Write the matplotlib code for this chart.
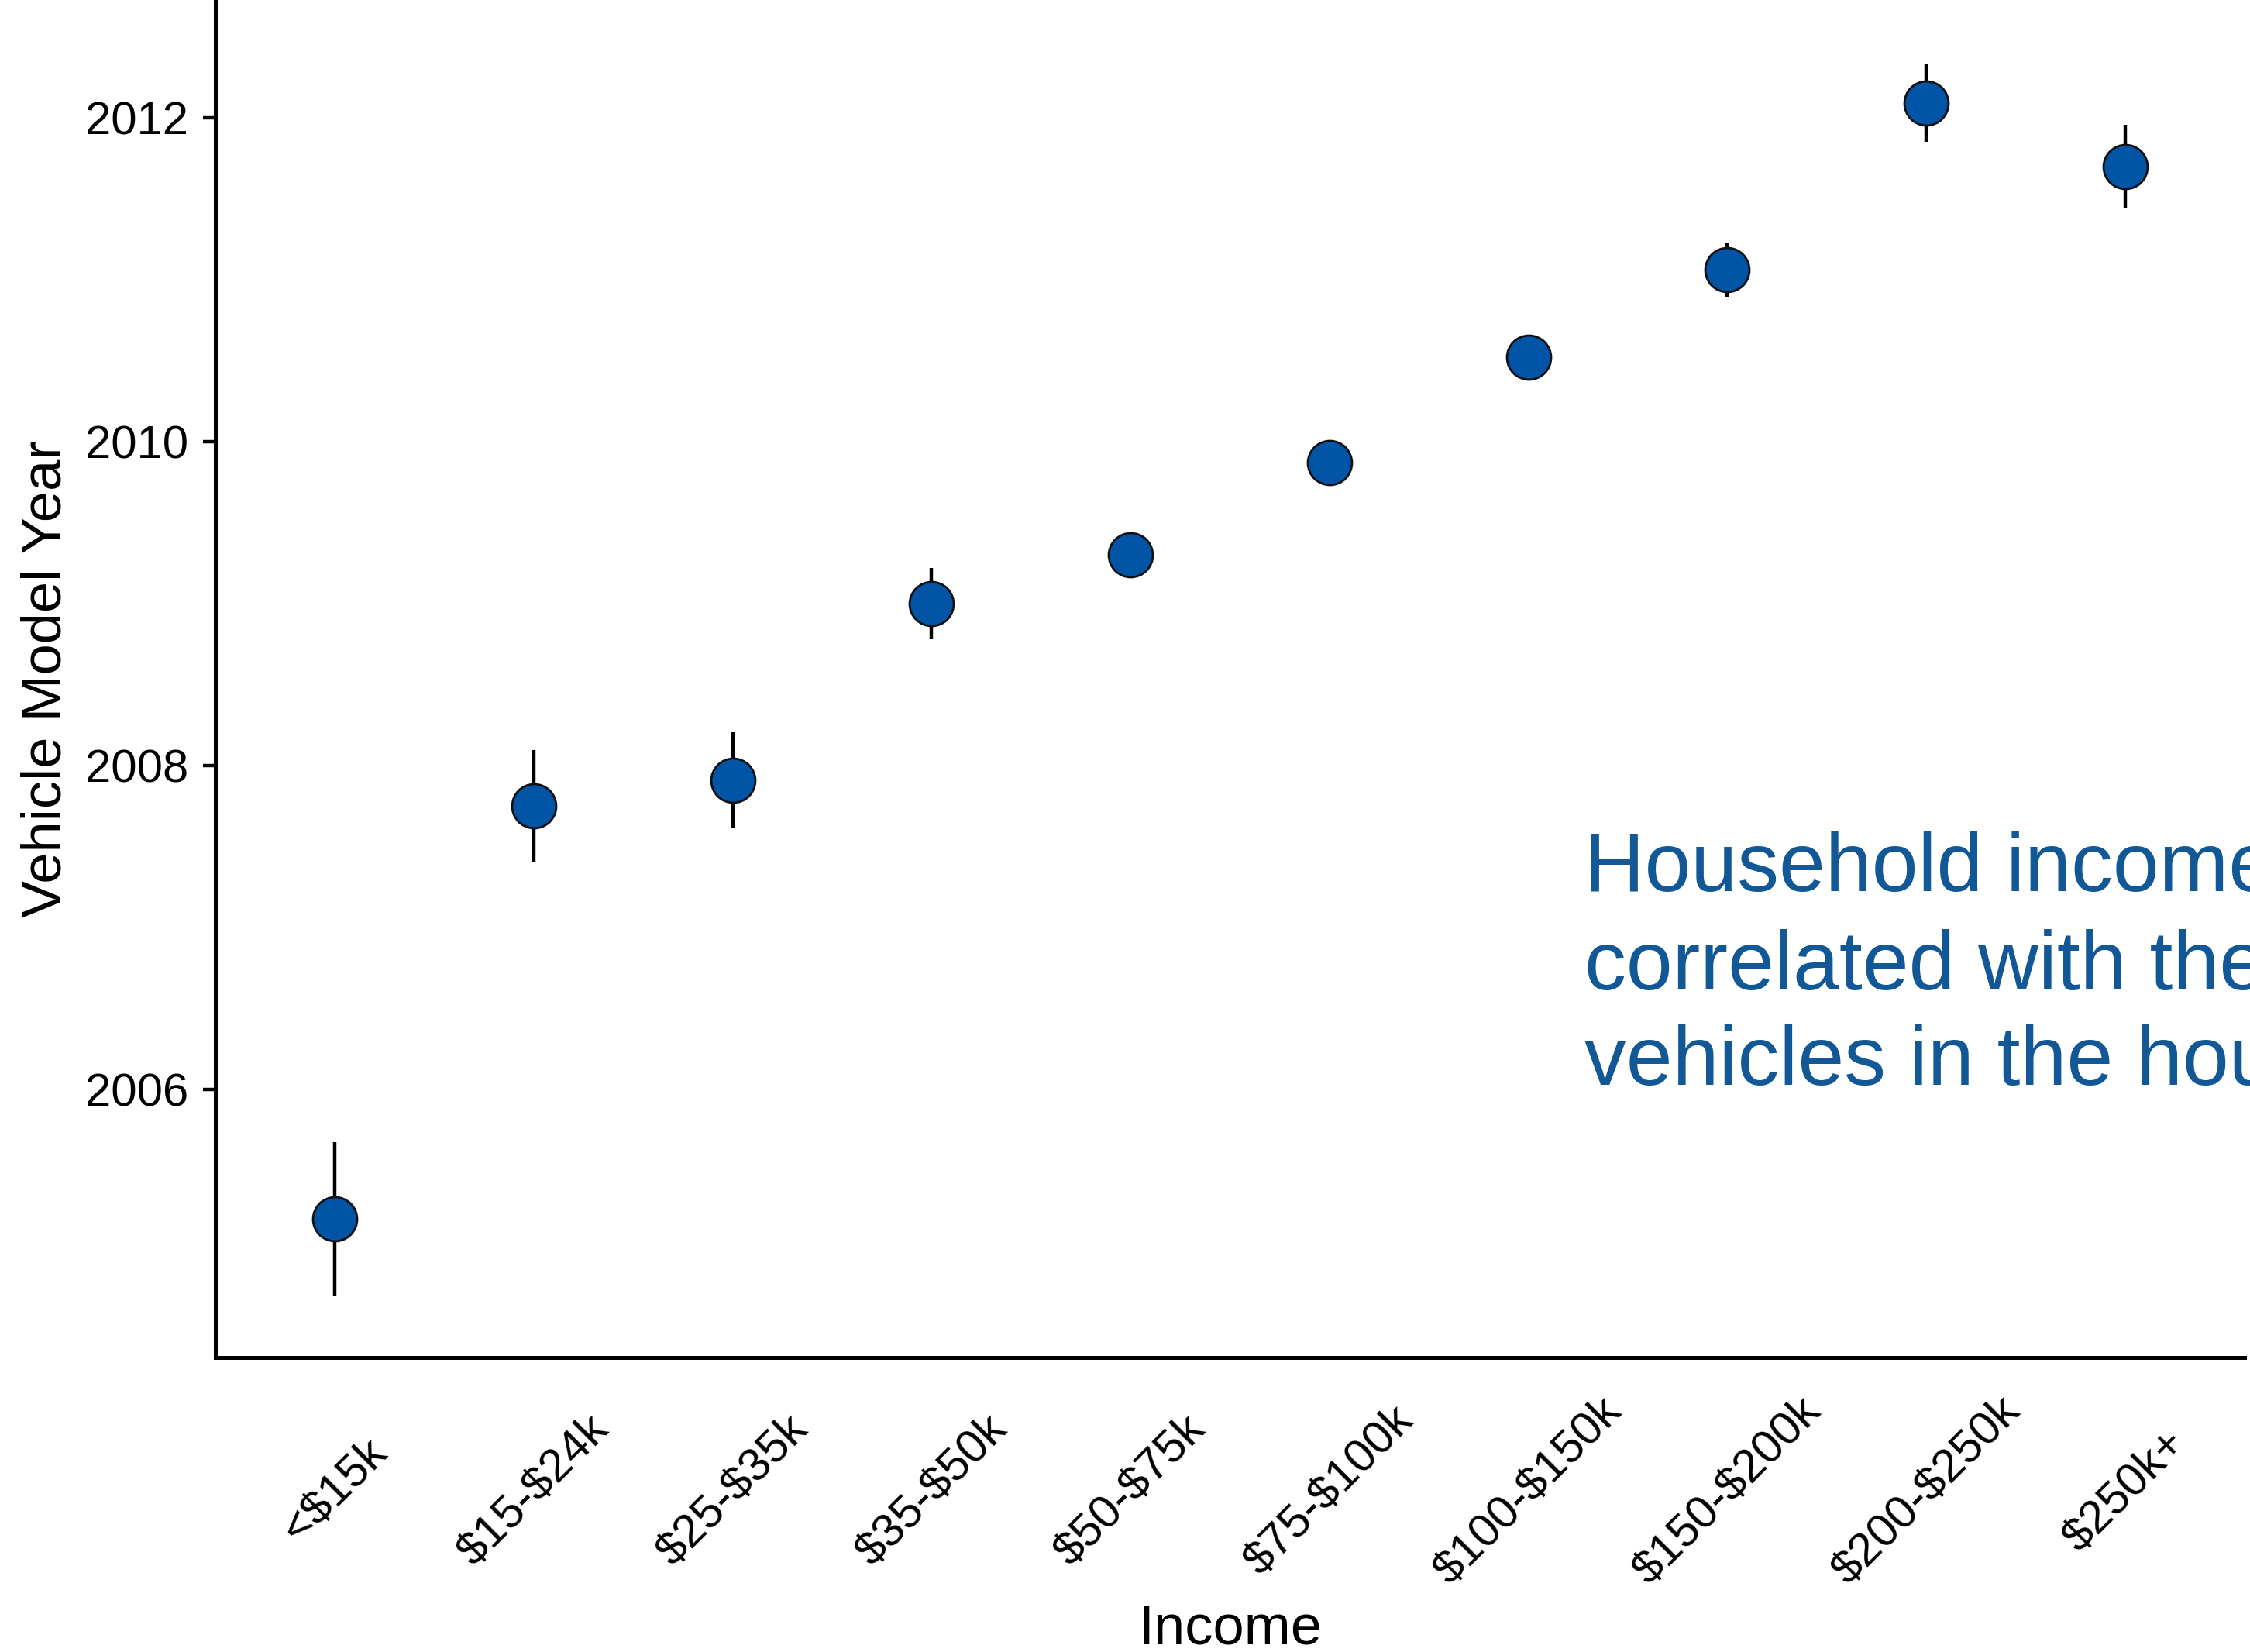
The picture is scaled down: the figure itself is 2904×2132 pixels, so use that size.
import matplotlib
matplotlib.use("Agg")
import matplotlib.pyplot as plt
import numpy as np

plt.rcParams['font.family'] = ['Liberation Sans', 'DejaVu Sans']

# income groups and mean vehicle model year
income = ["<$15k", "$15-$24k", "$25-$35k", "$35-$50k", "$50-$75k",
          "$75-$100k", "$100-$150k", "$150-$200k", "$200-$250k", "$250k+"]
model_year = [2005.20, 2007.75, 2007.91, 2009.00, 2009.30,
              2009.87, 2010.52, 2011.06, 2012.09, 2011.70]
year_err = [0.475, 0.345, 0.295, 0.22, 0.10,
            0.10, 0.08, 0.165, 0.24, 0.255]
y_ticks = [2006, 2008, 2010, 2012]

note_lines = ["Household income is",
              "correlated with the age of",
              "vehicles in the household"]

W, H = 2904, 2132
fig = plt.figure(figsize=(W / 200, H / 200), dpi=200)
ax = fig.add_axes([278 / W, 380 / H, (2897 - 278) / W, 1752 / H])

x = np.arange(1, len(income) + 1)
ax.errorbar(x, model_year, yerr=year_err, fmt='none', ecolor='black',
            elinewidth=1.6, capsize=0, zorder=2)
ax.plot(x, model_year, 'o', markersize=20.5, markerfacecolor='#0254A6',
        markeredgecolor='#111111', markeredgewidth=1.0, zorder=3)

ax.set_xlim(0.4, 10.6)
ax.set_ylim(2004.345, 2012.727)
ax.set_xticks(x)
# escape the dollar signs so mathtext leaves them alone
ax.set_xticklabels([s.replace("$", r"\$") for s in income], rotation=45,
                   ha='center', va='center', rotation_mode='anchor')
ax.set_yticks(y_ticks)

ax.spines['top'].set_visible(False)
ax.spines['right'].set_visible(False)
for s in ['left', 'bottom']:
    ax.spines[s].set_linewidth(1.8)

ax.tick_params(axis='y', length=5.8, width=1.6, pad=6.8, labelsize=21.5)
ax.tick_params(axis='x', length=0, pad=62, labelsize=21.5)

ax.set_xlabel("Income", fontsize=26)
ax.xaxis.set_label_coords(0.5, -0.181)
ax.set_ylabel("Vehicle Model Year", fontsize=26)
ax.yaxis.set_label_coords(-0.0706, 0.5)

# annotation text, runs off the right edge like the original slide
baselines = [1150, 1277, 1400]
for line, yb in zip(note_lines, baselines):
    fig.text(2045 / W, 1 - yb / H, line, fontsize=38.7, color='#135896',
             ha='left', va='baseline')

fig.savefig("out.png", dpi=200)
